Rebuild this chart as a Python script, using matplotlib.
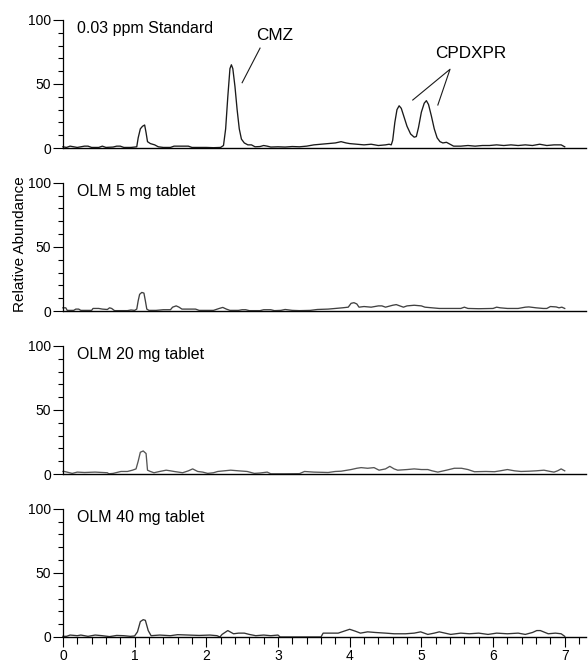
import matplotlib
matplotlib.use('Agg')
import matplotlib.pyplot as plt
from matplotlib.ticker import MultipleLocator

plt.rcParams['font.family'] = ['Liberation Sans', 'DejaVu Sans']

# chromatogram traces (time in min, relative abundance)
std_t = [0.00, 0.05, 0.10, 0.15, 0.20, 0.30, 0.35, 0.40, 0.50, 0.55, 0.60, 0.70, 0.75, 0.80,
         0.85, 0.95, 1.00, 1.03, 1.05, 1.08, 1.11, 1.14, 1.16, 1.18, 1.22, 1.28, 1.33, 1.40,
         1.50, 1.55, 1.65, 1.75, 1.80, 1.90, 2.00, 2.10, 2.20, 2.24, 2.27, 2.30, 2.33, 2.35,
         2.37, 2.40, 2.43, 2.46, 2.49, 2.53, 2.58, 2.63, 2.68, 2.75, 2.80, 2.85, 2.90, 3.00,
         3.10, 3.20, 3.30, 3.40, 3.50, 3.60, 3.70, 3.80, 3.88, 3.95, 4.00, 4.10, 4.20, 4.30,
         4.40, 4.50, 4.55, 4.58, 4.60, 4.63, 4.66, 4.69, 4.72, 4.76, 4.80, 4.85, 4.90, 4.93,
         4.96, 5.00, 5.04, 5.07, 5.10, 5.14, 5.18, 5.22, 5.26, 5.30, 5.35, 5.40, 5.45, 5.55,
         5.65, 5.75, 5.85, 5.95, 6.05, 6.15, 6.25, 6.35, 6.45, 6.55, 6.65, 6.75, 6.85, 6.95, 7.00]
std_y = [1.0, 0.5, 1.5, 1.0, 0.5, 1.5, 1.5, 0.5, 0.5, 1.5, 0.5, 0.8, 1.5, 1.5,
         0.5, 0.5, 0.8, 1.0, 8.0, 15.0, 17.0, 18.0, 12.0, 5.0, 3.5, 2.5, 1.0, 0.5,
         0.5, 1.5, 1.5, 1.5, 0.5, 0.5, 0.5, 0.3, 0.5, 2.0, 15.0, 40.0, 62.0, 65.0,
         62.0, 48.0, 30.0, 15.0, 7.0, 4.0, 2.5, 2.5, 1.0, 1.2, 2.0, 1.5, 0.8, 1.0,
         0.8, 1.2, 1.0, 1.5, 2.5, 3.0, 3.5, 4.0, 5.0, 4.0, 3.5, 3.0, 2.5, 3.0,
         2.0, 2.5, 3.0, 2.5, 6.0, 20.0, 30.0, 33.0, 31.0, 24.0, 17.0, 11.0, 8.5, 9.0,
         16.0, 28.0, 35.0, 37.0, 34.0, 25.0, 15.0, 8.0, 5.0, 4.0, 4.5, 3.0, 1.5, 1.5,
         2.0, 1.5, 2.0, 2.0, 2.5, 2.0, 2.5, 2.0, 2.5, 2.0, 3.0, 2.0, 2.5, 2.5, 1.0]

mg5_t = [0.00, 0.04, 0.06, 0.15, 0.18, 0.22, 0.25, 0.40, 0.42, 0.50, 0.55, 0.62, 0.65, 0.68,
         0.72, 0.90, 0.95, 1.00, 1.03, 1.05, 1.07, 1.10, 1.13, 1.15, 1.17, 1.20, 1.30, 1.40,
         1.50, 1.53, 1.58, 1.62, 1.66, 1.75, 1.85, 1.90, 2.00, 2.10, 2.18, 2.23, 2.28, 2.33,
         2.45, 2.50, 2.55, 2.60, 2.75, 2.80, 2.90, 2.95, 3.04, 3.10, 3.20, 3.30, 3.45, 3.55,
         3.70, 3.80, 3.90, 3.98, 4.02, 4.06, 4.10, 4.13, 4.20, 4.30, 4.40, 4.45, 4.50, 4.60,
         4.65, 4.70, 4.75, 4.80, 4.90, 5.00, 5.05, 5.15, 5.25, 5.40, 5.55, 5.60, 5.65, 5.80,
         6.00, 6.05, 6.10, 6.20, 6.35, 6.45, 6.50, 6.60, 6.70, 6.75, 6.80, 6.88, 6.92, 6.96, 7.00]
mg5_y = [2.5, 2.5, 0.5, 0.5, 1.5, 1.5, 0.5, 0.5, 2.0, 2.0, 1.5, 1.2, 2.5, 2.0,
         0.3, 0.3, 0.8, 0.5, 1.5, 8.0, 13.0, 14.5, 14.0, 8.0, 1.5, 0.5, 0.5, 1.0,
         1.0, 3.0, 4.0, 3.0, 1.5, 1.5, 1.5, 0.5, 0.5, 0.5, 2.0, 2.8, 1.5, 0.5,
         0.5, 1.0, 1.0, 0.3, 0.3, 1.0, 1.0, 0.3, 0.5, 1.2, 0.5, 0.3, 0.5, 1.2,
         1.5, 2.0, 2.5, 3.0, 6.0, 6.5, 5.5, 3.0, 3.5, 3.0, 4.0, 4.0, 3.0, 4.5,
         5.0, 4.0, 3.0, 4.0, 4.5, 4.0, 3.0, 2.5, 2.0, 2.0, 2.0, 3.0, 2.0, 1.8,
         2.0, 3.0, 2.5, 2.0, 2.0, 3.0, 3.2, 2.5, 2.0, 2.0, 3.5, 3.2, 2.5, 3.0, 2.0]

mg20_t = [0.00, 0.02, 0.13, 0.20, 0.30, 0.45, 0.62, 0.64, 0.70, 0.81, 0.90, 0.97, 1.02, 1.05,
          1.08, 1.12, 1.16, 1.18, 1.22, 1.27, 1.35, 1.44, 1.50, 1.55, 1.67, 1.75, 1.81, 1.88,
          1.95, 2.02, 2.10, 2.16, 2.25, 2.34, 2.45, 2.57, 2.67, 2.75, 2.85, 2.90, 3.10, 3.30,
          3.37, 3.50, 3.70, 3.80, 3.88, 4.02, 4.10, 4.16, 4.25, 4.34, 4.41, 4.50, 4.56, 4.62,
          4.67, 4.80, 4.90, 5.00, 5.09, 5.15, 5.23, 5.35, 5.46, 5.56, 5.65, 5.74, 5.90, 6.02,
          6.10, 6.20, 6.30, 6.39, 6.50, 6.60, 6.71, 6.80, 6.85, 6.90, 6.95, 7.00]
mg20_y = [2.0, 2.0, 0.5, 1.5, 1.2, 1.5, 1.0, 0.2, 0.5, 2.0, 2.0, 3.0, 4.0, 10.0,
          17.0, 18.0, 16.0, 3.0, 2.0, 1.0, 2.0, 3.0, 2.5, 2.0, 1.0, 2.5, 4.0, 2.0,
          1.5, 0.5, 1.0, 2.0, 2.5, 3.0, 2.5, 2.0, 0.5, 0.8, 1.5, 0.2, 0.2, 0.3,
          2.0, 1.5, 1.2, 2.0, 2.2, 3.5, 4.5, 5.0, 4.5, 5.0, 3.0, 4.0, 6.0, 4.0,
          3.0, 3.5, 4.0, 3.5, 3.5, 2.5, 1.5, 3.0, 4.5, 4.5, 3.5, 1.8, 2.0, 1.8,
          2.5, 3.5, 2.5, 2.0, 2.2, 2.5, 3.0, 2.0, 1.5, 2.5, 4.0, 2.5]

mg40_t = [0.00, 0.05, 0.10, 0.20, 0.25, 0.35, 0.45, 0.55, 0.65, 0.75, 0.85, 0.94, 1.00, 1.04,
          1.08, 1.12, 1.15, 1.19, 1.23, 1.35, 1.50, 1.60, 1.75, 1.90, 2.05, 2.15, 2.19, 2.22,
          2.30, 2.38, 2.45, 2.53, 2.60, 2.69, 2.80, 2.90, 3.00, 3.03, 3.27, 3.60, 3.63, 3.75,
          3.84, 3.92, 4.00, 4.08, 4.15, 4.25, 4.36, 4.50, 4.62, 4.78, 4.90, 4.99, 5.09, 5.18,
          5.25, 5.41, 5.55, 5.67, 5.80, 5.93, 6.05, 6.20, 6.35, 6.45, 6.55, 6.61, 6.66, 6.77,
          6.87, 6.95, 7.00]
mg40_y = [0.5, 0.5, 1.5, 1.0, 1.5, 0.5, 1.5, 1.0, 0.3, 1.2, 1.0, 0.5, 0.8, 4.0,
          12.0, 13.5, 13.0, 5.0, 1.0, 1.5, 1.0, 1.8, 1.5, 1.2, 1.5, 1.0, 0.0, 2.0,
          5.0, 2.5, 3.0, 3.0, 2.0, 1.0, 1.5, 1.0, 1.5, 0.0, 0.0, 0.0, 3.0, 3.0,
          3.0, 4.5, 6.0, 4.5, 3.0, 4.0, 3.5, 3.0, 2.5, 2.5, 3.0, 4.0, 2.0, 3.0,
          4.0, 2.0, 3.0, 2.5, 3.0, 2.0, 3.0, 2.5, 3.0, 2.0, 3.5, 5.0, 5.0, 2.5,
          3.0, 2.5, 0.5]

panel_titles = ['0.03 ppm Standard', 'OLM 5 mg tablet', 'OLM 20 mg tablet', 'OLM 40 mg tablet']
traces = [(std_t, std_y), (mg5_t, mg5_y), (mg20_t, mg20_y), (mg40_t, mg40_y)]
trace_colors = ['#1a1a1a', '#404040', '#555555', '#333333']
x_ticks = [0, 1, 2, 3, 4, 5, 6, 7]

fig = plt.figure(figsize=(5.88, 6.64), dpi=100)

# panel bottoms in figure fraction (zero line of each panel)
bottoms = [0.777, 0.5316, 0.2861, 0.0407]
axes = []
for i, b in enumerate(bottoms):
    ax = fig.add_axes([0.107, b, 0.890, 0.193])
    t, y = traces[i]
    ax.plot(t, y, color=trace_colors[i], lw=0.95, clip_on=False)
    ax.set_xlim(0, 7.3)
    ax.set_ylim(0, 100)
    for s in ['top', 'right']:
        ax.spines[s].set_visible(False)
    ax.spines['left'].set_linewidth(0.9)
    ax.spines['bottom'].set_linewidth(1.0)
    ax.yaxis.set_major_locator(MultipleLocator(50))
    ax.yaxis.set_minor_locator(MultipleLocator(10))
    ax.tick_params(axis='y', which='major', direction='out', length=7, width=0.8,
                   pad=1.5, labelsize=10)
    ax.tick_params(axis='y', which='minor', direction='out', length=3.5, width=0.8)
    ax.text(0.2, 93, panel_titles[i], fontsize=11.5, va='center', ha='left')
    if i < 3:
        ax.set_xticks([])
    else:
        ax.set_xticks(x_ticks)
        ax.xaxis.set_minor_locator(MultipleLocator(0.2))
        ax.tick_params(axis='x', which='major', direction='out', length=7.5, width=0.8,
                       pad=1.5, labelsize=10)
        ax.tick_params(axis='x', which='minor', direction='out', length=5, width=0.8)
    axes.append(ax)

# peak labels on the standard
ax0 = axes[0]
ax0.text(2.96, 88, 'CMZ', fontsize=12.3, ha='center', va='center')
ax0.plot([2.50, 2.75], [51, 78], color='#1a1a1a', lw=0.8)
ax0.text(5.69, 74, 'CPDXPR', fontsize=12.3, ha='center', va='center')
ax0.plot([4.88, 5.40, 5.23], [37.5, 61.5, 33.6], color='#1a1a1a', lw=0.8)

fig.text(0.034, 1 - 244 / 664, 'Relative Abundance', rotation=90, fontsize=11,
         ha='center', va='center')

fig.savefig('out.png', dpi=100)
